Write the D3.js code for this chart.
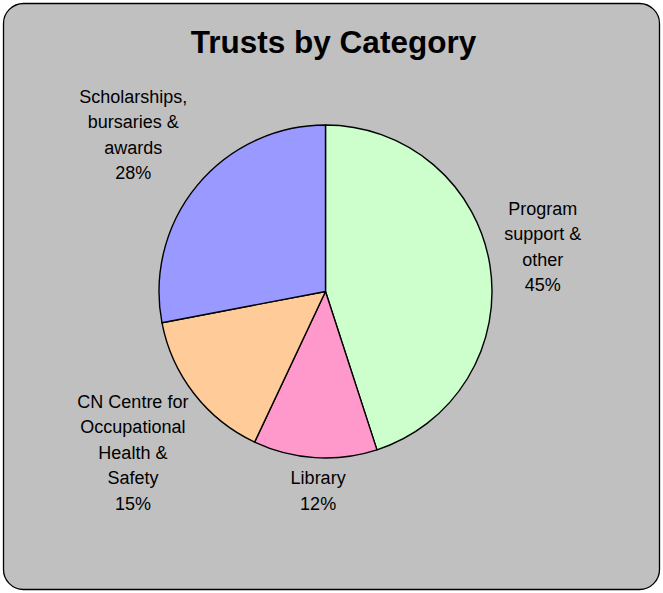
<!DOCTYPE html>
<html>
<head>
<meta charset="utf-8">
<script src="https://cdn.jsdelivr.net/npm/d3@7"></script>
<style>
  html, body { margin: 0; padding: 0; background: #ffffff; }
  svg { display: block; }
  text { font-family: "Liberation Sans", Arial, sans-serif; fill: #000; }
</style>
</head>
<body>
<svg id="chart" width="663" height="593"></svg>
<script>
// Trust categories, share of total (%)
const categories = [
  ["Program", "support &", "other"],
  ["Library"],
  ["CN Centre for", "Occupational", "Health &", "Safety"],
  ["Scholarships,", "bursaries &", "awards"]
];
const shares = [45, 12, 15, 28];
const sliceColors = ["#ccffcc", "#ff99cc", "#ffcc99", "#9999ff"];
const chartTitle = "Trusts by Category";

const W = 663, H = 593;
const cx = 325.5, cy = 291.5, R = 166.5;
const svg = d3.select("#chart");

// chart area with rounded corners
svg.append("rect")
  .attr("x", 3.5).attr("y", 3.5)
  .attr("width", W - 7).attr("height", H - 7)
  .attr("rx", 20).attr("ry", 20)
  .attr("fill", "#c0c0c0")
  .attr("stroke", "#000").attr("stroke-width", 1.3);

svg.append("text")
  .attr("x", 333.5).attr("y", 53)
  .attr("text-anchor", "middle")
  .style("font-size", "31.5px").style("font-weight", "bold")
  .text(chartTitle);

const data = shares.map((v, i) => ({ lines: categories[i], value: v, color: sliceColors[i] }));

const pie = d3.pie().sort(null).value(d => d.value);
const arcs = pie(data);
const arc = d3.arc().innerRadius(0).outerRadius(R);

const g = svg.append("g").attr("transform", `translate(${cx},${cy})`);

g.selectAll("path.slice")
  .data(arcs)
  .join("path")
  .attr("class", "slice")
  .attr("d", arc)
  .attr("fill", d => d.data.color)
  .attr("stroke", "#000")
  .attr("stroke-width", 1.4)
  .attr("stroke-linejoin", "round");

// labels sit outside the pie along each slice's mid-angle, with small nudges
const labelArc = d3.arc().innerRadius(221).outerRadius(221);
const nudges = [[-1, -4], [6.5, -15], [-18, 32], [-22, -9.5]];
const lineH = 25.5;

arcs.forEach((d, i) => {
  const [px, py] = labelArc.centroid(d);
  const lines = d.data.lines.concat([d.data.value + "%"]);
  const x = px + nudges[i][0];
  const midY = py + nudges[i][1];
  const y0 = midY - (lines.length - 1) * lineH / 2;
  const t = g.append("text")
    .attr("text-anchor", "middle")
    .style("font-size", "18px");
  lines.forEach((ln, k) => {
    t.append("tspan").attr("x", x).attr("y", y0 + k * lineH).text(ln);
  });
});
</script>
</body>
</html>
